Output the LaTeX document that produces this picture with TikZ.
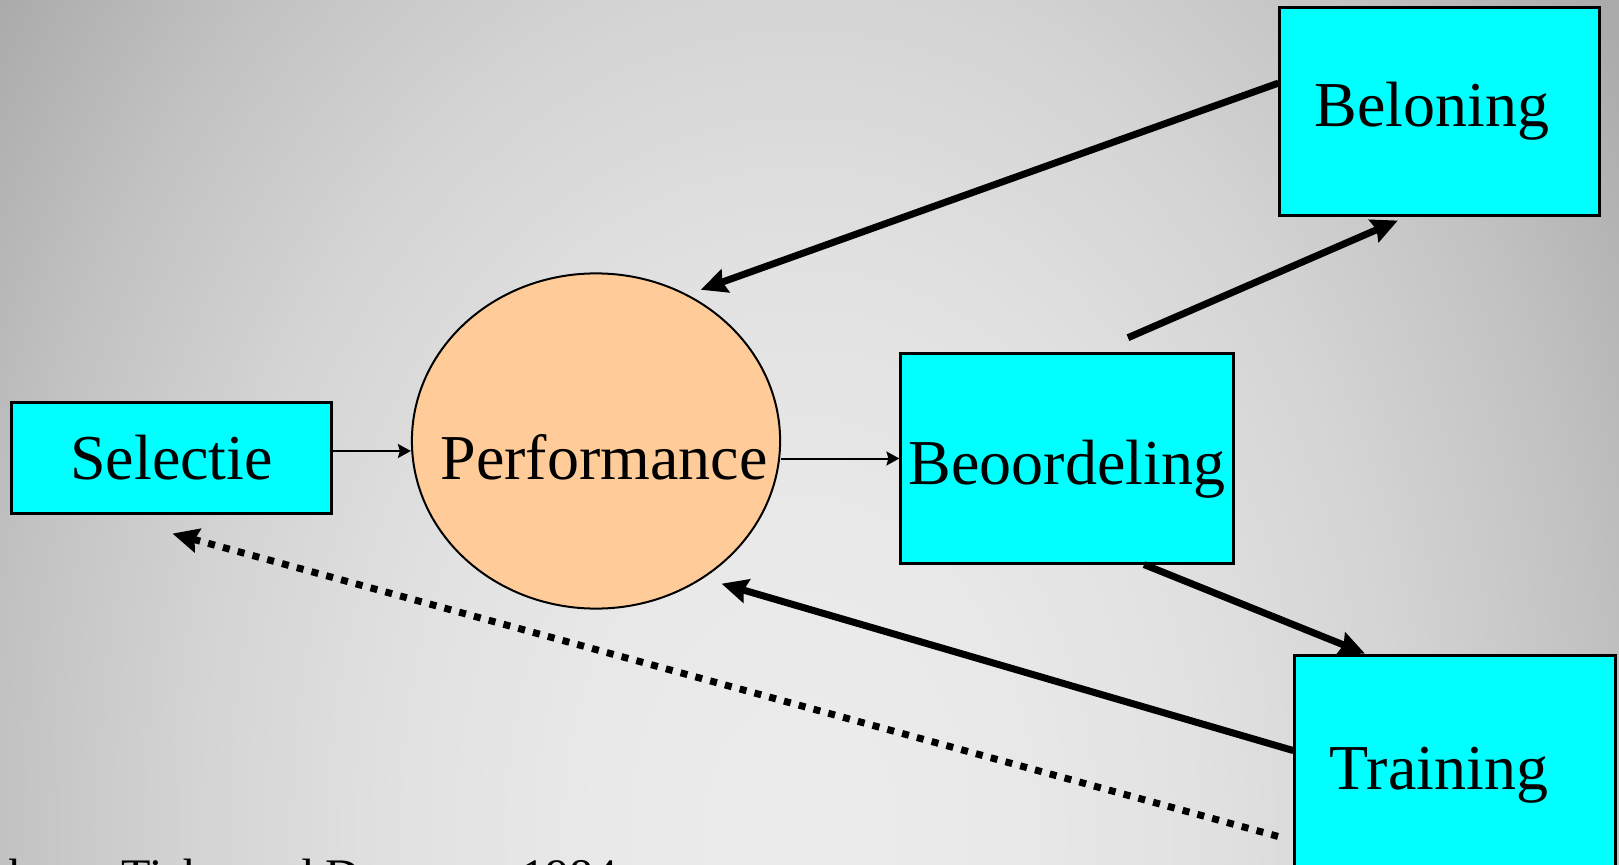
\documentclass[tikz,border=0pt]{standalone}
\usepackage{fontspec}
\setmainfont{Liberation Serif}
\usetikzlibrary{arrows.meta,shapes.geometric}
\pgfdeclareradialshading{backdrop}{\pgfpoint{0bp}{0bp}}{rgb(0bp)=(0.925,0.925,0.925); rgb(2.5bp)=(0.914,0.914,0.914); rgb(5bp)=(0.884,0.884,0.884); rgb(7.5bp)=(0.833,0.833,0.833); rgb(10bp)=(0.761,0.761,0.761); rgb(12.5bp)=(0.667,0.667,0.667); rgb(50bp)=(0.667,0.667,0.667)}
\definecolor{boxcyan}{HTML}{00FFFF}
\definecolor{perfpeach}{HTML}{FFCC99}
\tikzset{
box/.style={draw, line width=0.03cm, fill=boxcyan, inner sep=0pt, font=\fontsize{18.2}{21}\selectfont},
hub/.style={ellipse, draw, line width=0.02cm, fill=perfpeach, inner sep=0pt, minimum width=3.68cm, minimum height=3.35cm},
thin arrow/.style={-{Stealth[length=0.13cm,width=0.14cm,inset=0.02cm]}, line width=0.02cm},
thick arrow/.style={-{Stealth[length=0.26cm,width=0.24cm,inset=0.03cm]}, line width=0.07cm},
dotted arrow/.style={thick arrow, dash pattern=on 0.07cm off 0.083cm},
}

\begin{document}
\begin{tikzpicture}[x=0.01cm, y=-0.01cm]
    \useasboundingbox (0,0) rectangle (1619,864);
    \begin{scope}
        \clip (0,0) rectangle (1619,864);
        \shade[shading=backdrop] (800,830) ellipse (2000 and 2800);
    \end{scope}

    \node[box, minimum width=3.19cm, minimum height=1.10cm] (sel) at (171.5,458) {Selectie};
    \node[hub, label={[font=\fontsize{18.2}{21}\selectfont, xshift=0.08cm, yshift=-0.16cm]center:Performance}] (perf) at (596,441) {};
    \node[box, minimum width=3.32cm, minimum height=2.09cm, text height=0.665cm] (beo) at (1067,458.5) {Beoordeling};
    \node[box, minimum width=3.19cm, minimum height=2.07cm, text width=2.5cm, align=left] (bel) at (1439.5,111.5) {Beloning};
    \node[box, minimum width=3.20cm, minimum height=2.41cm, text width=2.5cm, align=left] (tra) at (1455,775.6) {Training};
    \node[anchor=base west, inner sep=0pt, font=\fontsize{13.7}{16}\selectfont] (src) at (-80,892) {Fombrun, Tichy and Devanna, 1984};

    \draw[thin arrow] ([yshift=0.07cm]sel.east) -- ([yshift=0.07cm]sel.east -| perf.west);
    \draw[thin arrow] (perf.east |- beo.west) -- (beo.west);
    \draw[thick arrow, shorten >=0.14cm] (bel.170) -- (perf.58);
    \draw[thick arrow, shorten <=0.37cm, shorten >=0.1cm] ([xshift=0.27cm]beo.north) -- ([xshift=-0.325cm]bel.south);
    \draw[thick arrow] ([xshift=0.77cm]beo.south) -- ([xshift=-0.9cm]tra.north);
    \draw[thick arrow, shorten >=0.19cm] ([yshift=0.25cm]tra.west) -- (perf.-52);
    \draw[dotted arrow, shorten <=0.16cm, shorten >=0.72cm] ([yshift=-0.65cm]tra.west) -- ([xshift=-0.685cm]sel.south);
\end{tikzpicture}
\end{document}
